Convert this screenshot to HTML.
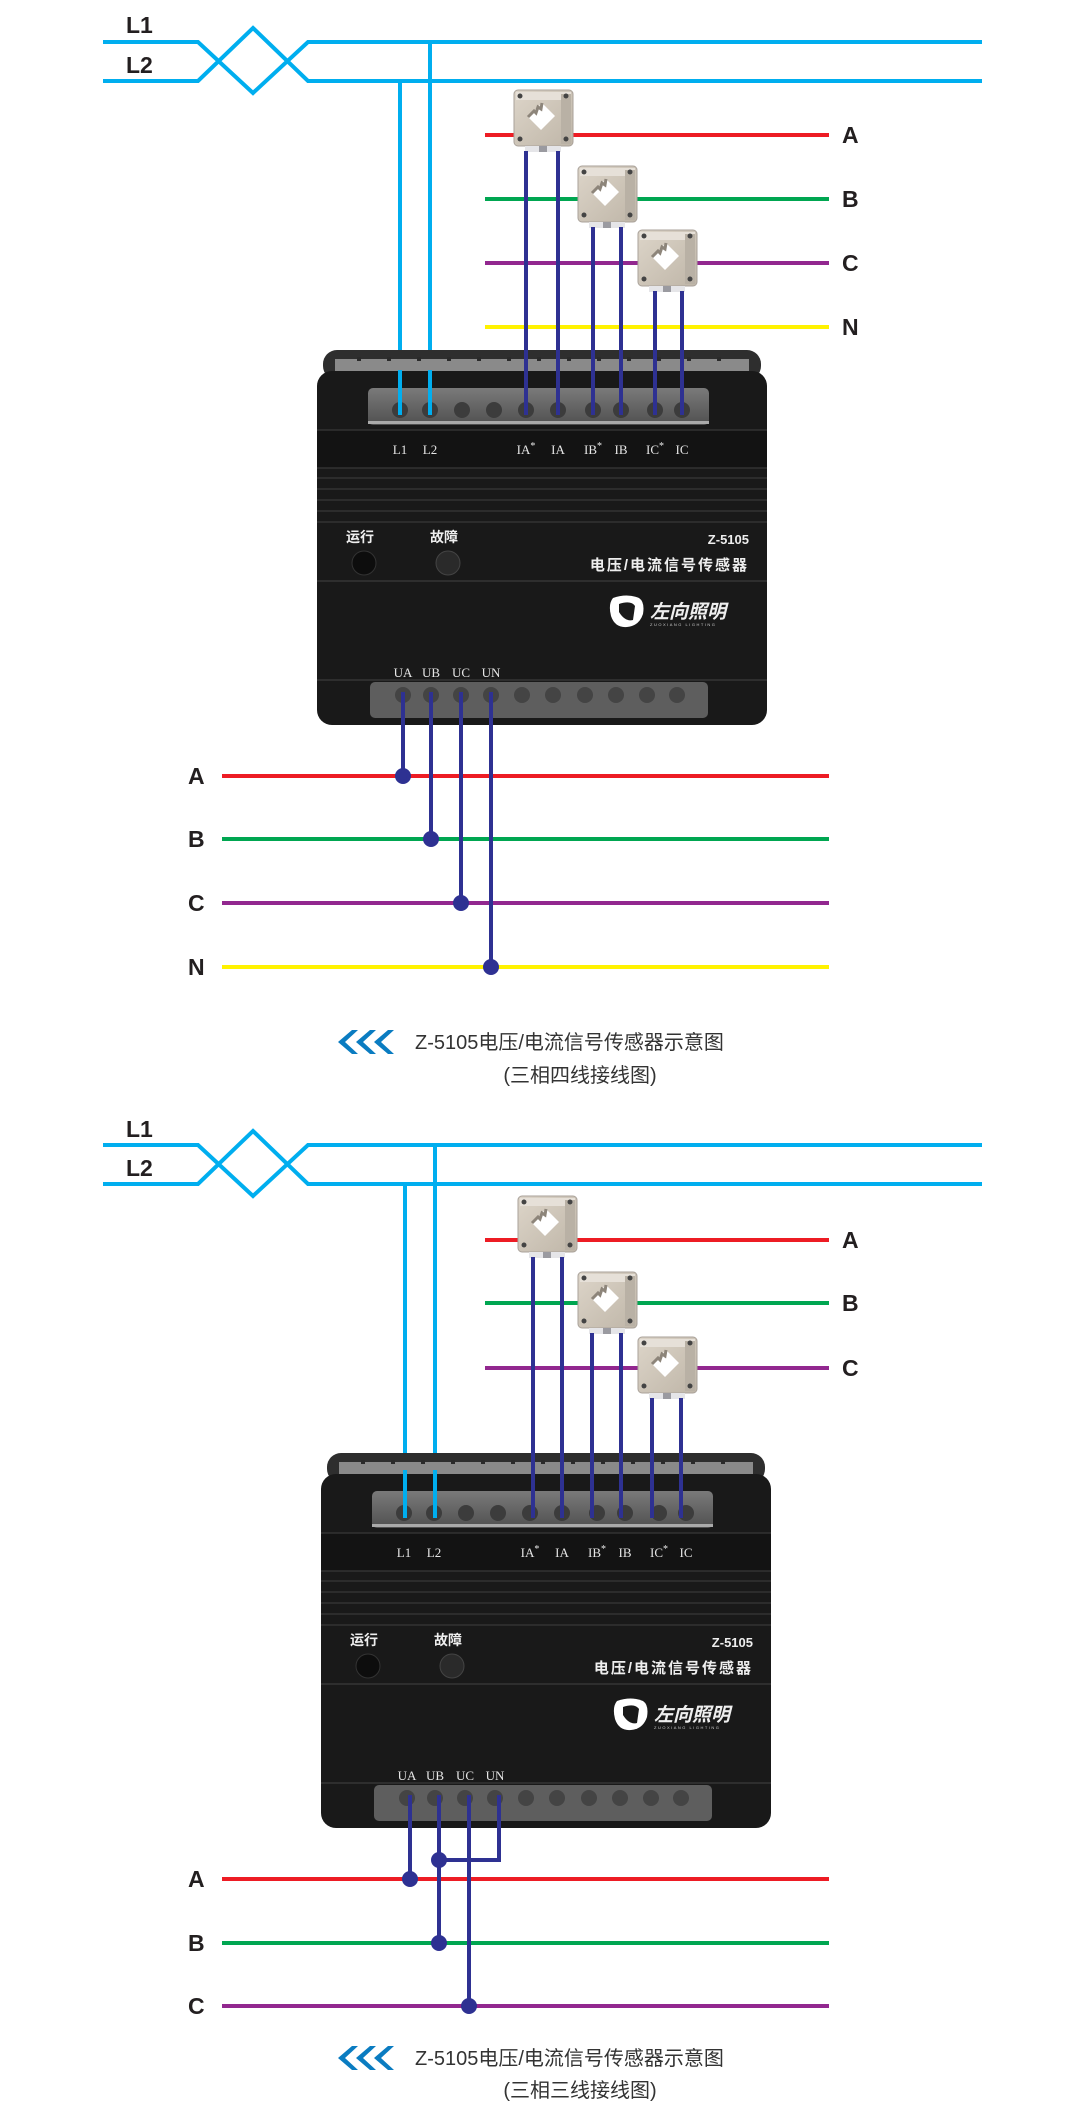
<!DOCTYPE html>
<html><head><meta charset="utf-8"><style>
html,body{margin:0;padding:0;background:#fff;}
svg{display:block;}
.lab{font-family:"Liberation Sans",sans-serif;font-weight:bold;font-size:23px;fill:#231f20;}
.tl{font-family:"Liberation Serif",serif;font-size:13px;fill:#e6e6e6;}
.cn{font-family:"Liberation Sans","Noto Sans CJK SC",sans-serif;fill:#eee;font-weight:bold;}
.cap{font-family:"Liberation Sans","Noto Sans CJK SC",sans-serif;font-size:20px;fill:#333;}
</style></head><body>
<svg width="1080" height="2114" viewBox="0 0 1080 2114" xmlns="http://www.w3.org/2000/svg">
<defs>
<linearGradient id="ctg" x1="0" y1="0" x2="1" y2="1">
<stop offset="0" stop-color="#ddd5c9"/><stop offset="1" stop-color="#bfb6a8"/></linearGradient>
<linearGradient id="strip" x1="0" y1="0" x2="0" y2="1">
<stop offset="0" stop-color="#7a7a7a"/><stop offset="1" stop-color="#505050"/></linearGradient>
<g id="ct">
<rect x="0" y="0" width="59" height="56" rx="4" fill="url(#ctg)" stroke="#aaa29a" stroke-width="1"/>
<rect x="2" y="2" width="55" height="8" fill="#e6e0d8"/>
<rect x="47" y="4" width="10" height="50" fill="#b9b1a5"/>
<polygon points="28,13 41,26 27,40 14,27" fill="#fff"/>
<polyline points="14,27 20,21 22,23 24,17 27,19 28,13" fill="none" stroke="#8d857a" stroke-width="3"/>
<circle cx="6" cy="6" r="2.5" fill="#444"/><circle cx="52" cy="6" r="2.5" fill="#444"/>
<circle cx="6" cy="49" r="2.5" fill="#444"/><circle cx="52" cy="49" r="2.5" fill="#444"/>
<rect x="11" y="56" width="36" height="6" fill="#e5e5e8"/>
<rect x="25" y="56" width="8" height="6" fill="#9a9aa0"/>
</g>
<g id="dev">
<rect x="6" y="0" width="438" height="30" rx="14" fill="#2e2e2e"/>
<rect x="18" y="9" width="414" height="12" fill="#8a8a8a"/>
<g fill="#2a2a2a"><rect x="40" y="7" width="4" height="4"/><rect x="70" y="7" width="4" height="4"/><rect x="100" y="7" width="4" height="4"/><rect x="130" y="7" width="4" height="4"/><rect x="160" y="7" width="4" height="4"/><rect x="190" y="7" width="4" height="4"/><rect x="220" y="7" width="4" height="4"/><rect x="250" y="7" width="4" height="4"/><rect x="280" y="7" width="4" height="4"/><rect x="310" y="7" width="4" height="4"/><rect x="340" y="7" width="4" height="4"/><rect x="370" y="7" width="4" height="4"/><rect x="400" y="7" width="4" height="4"/></g>
<rect x="0" y="21" width="450" height="354" rx="15" fill="#191919"/>
<rect x="51" y="38" width="341" height="37" rx="5" fill="url(#strip)"/>
<rect x="51" y="71" width="341" height="3" fill="#aaa"/>
<g fill="#3c3c3c"><circle cx="83" cy="60" r="8"/><circle cx="113" cy="60" r="8"/><circle cx="145" cy="60" r="8"/><circle cx="177" cy="60" r="8"/><circle cx="209" cy="60" r="8"/><circle cx="241" cy="60" r="8"/><circle cx="276" cy="60" r="8"/><circle cx="304" cy="60" r="8"/><circle cx="338" cy="60" r="8"/><circle cx="365" cy="60" r="8"/></g>
<rect x="0" y="80" width="450" height="38" fill="#131313"/>
<line x1="0" y1="80" x2="450" y2="80" stroke="#333" stroke-width="1.5"/>
<line x1="0" y1="118" x2="450" y2="118" stroke="#333" stroke-width="1.5"/>
<g stroke="#2c2c2c" stroke-width="2"><line x1="0" y1="128" x2="450" y2="128"/><line x1="0" y1="139" x2="450" y2="139"/><line x1="0" y1="150" x2="450" y2="150"/><line x1="0" y1="161" x2="450" y2="161"/><line x1="0" y1="172" x2="450" y2="172"/></g>
<line x1="0" y1="231" x2="450" y2="231" stroke="#2e2e2e" stroke-width="2"/>
<line x1="0" y1="330" x2="450" y2="330" stroke="#2e2e2e" stroke-width="2"/>
<circle cx="47" cy="213" r="12" fill="#0d0d0d" stroke="#333"/>
<circle cx="131" cy="213" r="12" fill="#2a2a2a" stroke="#444"/>
<rect x="53" y="332" width="338" height="36" rx="5" fill="#5e5e5e"/>
<g fill="#444"><circle cx="86" cy="345" r="8"/><circle cx="114" cy="345" r="8"/><circle cx="144" cy="345" r="8"/><circle cx="174" cy="345" r="8"/><circle cx="205" cy="345" r="8"/><circle cx="236" cy="345" r="8"/><circle cx="268" cy="345" r="8"/><circle cx="299" cy="345" r="8"/><circle cx="330" cy="345" r="8"/><circle cx="360" cy="345" r="8"/></g>
<path d="M296,248 Q310,243 322,248 Q328,252 326,264 Q322,276 310,277 Q298,278 294,266 Q291,254 296,248 Z" fill="#fff"/>
<path d="M302,254 Q314,250 318,256 L316,270 Q308,272 302,262 Z" fill="#191919"/>
</g>
</defs>

<!-- ===== DIAGRAM 1 ===== -->
<g fill="none" stroke="#00aeef" stroke-width="4">
<polyline points="103,42 198,42 253,93 308,42 982,42"/>
<polyline points="103,81 198,81 253,28 308,81 982,81"/>
<line x1="400" y1="81" x2="400" y2="415"/>
<line x1="430" y1="42" x2="430" y2="415"/>
</g>
<text class="lab" x="126" y="33">L1</text>
<text class="lab" x="126" y="73">L2</text>
<g stroke-width="4">
<line x1="485" y1="135" x2="829" y2="135" stroke="#ed1c24"/>
<line x1="485" y1="199" x2="829" y2="199" stroke="#00a651"/>
<line x1="485" y1="263" x2="829" y2="263" stroke="#92278f"/>
<line x1="485" y1="327" x2="829" y2="327" stroke="#fff200"/>
</g>
<text class="lab" x="842" y="143">A</text>
<text class="lab" x="842" y="207">B</text>
<text class="lab" x="842" y="271">C</text>
<text class="lab" x="842" y="335">N</text>
<use href="#ct" x="514" y="90"/>
<use href="#ct" x="578" y="166"/>
<use href="#ct" x="638" y="230"/>
<use href="#dev" x="317" y="350"/>
<g fill="none" stroke="#00aeef" stroke-width="4">
<line x1="400" y1="370" x2="400" y2="415"/><line x1="430" y1="370" x2="430" y2="415"/></g>
<g stroke="#2e3192" stroke-width="4">
<line x1="526" y1="151" x2="526" y2="415"/><line x1="558" y1="151" x2="558" y2="415"/>
<line x1="593" y1="227" x2="593" y2="415"/><line x1="621" y1="227" x2="621" y2="415"/>
<line x1="655" y1="291" x2="655" y2="415"/><line x1="682" y1="291" x2="682" y2="415"/>
</g>
<g transform="translate(317,350)">
<text class="tl" x="83" y="104" text-anchor="middle">L1</text>
<text class="tl" x="113" y="104" text-anchor="middle">L2</text>
<text class="tl" x="209" y="104" text-anchor="middle">IA<tspan dy="-5" font-size="10">*</tspan></text>
<text class="tl" x="241" y="104" text-anchor="middle">IA</text>
<text class="tl" x="276" y="104" text-anchor="middle">IB<tspan dy="-5" font-size="10">*</tspan></text>
<text class="tl" x="304" y="104" text-anchor="middle">IB</text>
<text class="tl" x="338" y="104" text-anchor="middle">IC<tspan dy="-5" font-size="10">*</tspan></text>
<text class="tl" x="365" y="104" text-anchor="middle">IC</text>
<text class="cn" x="29" y="192" font-size="14">运行</text>
<text class="cn" x="113" y="192" font-size="14">故障</text>
<text class="cn" x="432" y="194" font-size="13" font-weight="normal" text-anchor="end">Z-5105</text>
<text class="cn" x="432" y="220" font-size="15" text-anchor="end" letter-spacing="2">电压/电流信号传感器</text>
<text class="cn" x="333" y="268" font-size="19" font-style="italic" fill="#fff">左向照明</text>
<text x="333" y="276" font-family="Liberation Sans" font-size="4" fill="#ccc" letter-spacing="1.5">ZUOXIANG LIGHTING</text>
<text class="tl" x="86" y="327" text-anchor="middle">UA</text>
<text class="tl" x="114" y="327" text-anchor="middle">UB</text>
<text class="tl" x="144" y="327" text-anchor="middle">UC</text>
<text class="tl" x="174" y="327" text-anchor="middle">UN</text>
</g>
<g stroke-width="4">
<line x1="222" y1="776" x2="829" y2="776" stroke="#ed1c24"/>
<line x1="222" y1="839" x2="829" y2="839" stroke="#00a651"/>
<line x1="222" y1="903" x2="829" y2="903" stroke="#92278f"/>
<line x1="222" y1="967" x2="829" y2="967" stroke="#fff200"/>
</g>
<text class="lab" x="188" y="784">A</text>
<text class="lab" x="188" y="847">B</text>
<text class="lab" x="188" y="911">C</text>
<text class="lab" x="188" y="975">N</text>
<g stroke="#2e3192" stroke-width="4" fill="#2e3192">
<line x1="403" y1="692" x2="403" y2="776"/><circle cx="403" cy="776" r="6"/>
<line x1="431" y1="692" x2="431" y2="839"/><circle cx="431" cy="839" r="6"/>
<line x1="461" y1="692" x2="461" y2="903"/><circle cx="461" cy="903" r="6"/>
<line x1="491" y1="692" x2="491" y2="967"/><circle cx="491" cy="967" r="6"/>
</g>
<g fill="#0a7cc1"><polygon points="338,1042 352,1030 358,1030 345,1042 358,1054 352,1054"/><polygon points="356,1042 370,1030 376,1030 363,1042 376,1054 370,1054"/><polygon points="374,1042 388,1030 394,1030 381,1042 394,1054 388,1054"/></g>
<text class="cap" x="415" y="1049">Z-5105电压/电流信号传感器示意图</text>
<text class="cap" x="580" y="1082" text-anchor="middle">(三相四线接线图)</text>

<!-- ===== DIAGRAM 2 ===== -->
<g fill="none" stroke="#00aeef" stroke-width="4">
<polyline points="103,1145 198,1145 253,1196 308,1145 982,1145"/>
<polyline points="103,1184 198,1184 253,1131 308,1184 982,1184"/>
<line x1="405" y1="1184" x2="405" y2="1518"/>
<line x1="435" y1="1145" x2="435" y2="1518"/>
</g>
<text class="lab" x="126" y="1137">L1</text>
<text class="lab" x="126" y="1176">L2</text>
<g stroke-width="4">
<line x1="485" y1="1240" x2="829" y2="1240" stroke="#ed1c24"/>
<line x1="485" y1="1303" x2="829" y2="1303" stroke="#00a651"/>
<line x1="485" y1="1368" x2="829" y2="1368" stroke="#92278f"/>
</g>
<text class="lab" x="842" y="1248">A</text>
<text class="lab" x="842" y="1311">B</text>
<text class="lab" x="842" y="1376">C</text>
<use href="#ct" x="518" y="1196"/>
<use href="#ct" x="578" y="1272"/>
<use href="#ct" x="638" y="1337"/>
<use href="#dev" x="321" y="1453"/>
<g fill="none" stroke="#00aeef" stroke-width="4">
<line x1="405" y1="1470" x2="405" y2="1518"/><line x1="435" y1="1470" x2="435" y2="1518"/></g>
<g stroke="#2e3192" stroke-width="4">
<line x1="533" y1="1257" x2="533" y2="1518"/><line x1="562" y1="1257" x2="562" y2="1518"/>
<line x1="592" y1="1333" x2="592" y2="1518"/><line x1="621" y1="1333" x2="621" y2="1518"/>
<line x1="652" y1="1398" x2="652" y2="1518"/><line x1="681" y1="1398" x2="681" y2="1518"/>
</g>
<g transform="translate(321,1453)">
<text class="tl" x="83" y="104" text-anchor="middle">L1</text>
<text class="tl" x="113" y="104" text-anchor="middle">L2</text>
<text class="tl" x="209" y="104" text-anchor="middle">IA<tspan dy="-5" font-size="10">*</tspan></text>
<text class="tl" x="241" y="104" text-anchor="middle">IA</text>
<text class="tl" x="276" y="104" text-anchor="middle">IB<tspan dy="-5" font-size="10">*</tspan></text>
<text class="tl" x="304" y="104" text-anchor="middle">IB</text>
<text class="tl" x="338" y="104" text-anchor="middle">IC<tspan dy="-5" font-size="10">*</tspan></text>
<text class="tl" x="365" y="104" text-anchor="middle">IC</text>
<text class="cn" x="29" y="192" font-size="14">运行</text>
<text class="cn" x="113" y="192" font-size="14">故障</text>
<text class="cn" x="432" y="194" font-size="13" font-weight="normal" text-anchor="end">Z-5105</text>
<text class="cn" x="432" y="220" font-size="15" text-anchor="end" letter-spacing="2">电压/电流信号传感器</text>
<text class="cn" x="333" y="268" font-size="19" font-style="italic" fill="#fff">左向照明</text>
<text x="333" y="276" font-family="Liberation Sans" font-size="4" fill="#ccc" letter-spacing="1.5">ZUOXIANG LIGHTING</text>
<text class="tl" x="86" y="327" text-anchor="middle">UA</text>
<text class="tl" x="114" y="327" text-anchor="middle">UB</text>
<text class="tl" x="144" y="327" text-anchor="middle">UC</text>
<text class="tl" x="174" y="327" text-anchor="middle">UN</text>
</g>
<g stroke-width="4">
<line x1="222" y1="1879" x2="829" y2="1879" stroke="#ed1c24"/>
<line x1="222" y1="1943" x2="829" y2="1943" stroke="#00a651"/>
<line x1="222" y1="2006" x2="829" y2="2006" stroke="#92278f"/>
</g>
<text class="lab" x="188" y="1887">A</text>
<text class="lab" x="188" y="1951">B</text>
<text class="lab" x="188" y="2014">C</text>
<g stroke="#2e3192" stroke-width="4" fill="#2e3192">
<line x1="410" y1="1795" x2="410" y2="1879"/><circle cx="410" cy="1879" r="6"/>
<line x1="439" y1="1795" x2="439" y2="1943"/><circle cx="439" cy="1943" r="6"/>
<line x1="469" y1="1795" x2="469" y2="2006"/><circle cx="469" cy="2006" r="6"/>
<polyline points="499,1795 499,1860 439,1860" fill="none"/><circle cx="439" cy="1860" r="6"/>
</g>
<g fill="#0a7cc1"><polygon points="338,2058 352,2046 358,2046 345,2058 358,2070 352,2070"/><polygon points="356,2058 370,2046 376,2046 363,2058 376,2070 370,2070"/><polygon points="374,2058 388,2046 394,2046 381,2058 394,2070 388,2070"/></g>
<text class="cap" x="415" y="2065">Z-5105电压/电流信号传感器示意图</text>
<text class="cap" x="580" y="2097" text-anchor="middle">(三相三线接线图)</text>
</svg>
</body></html>
